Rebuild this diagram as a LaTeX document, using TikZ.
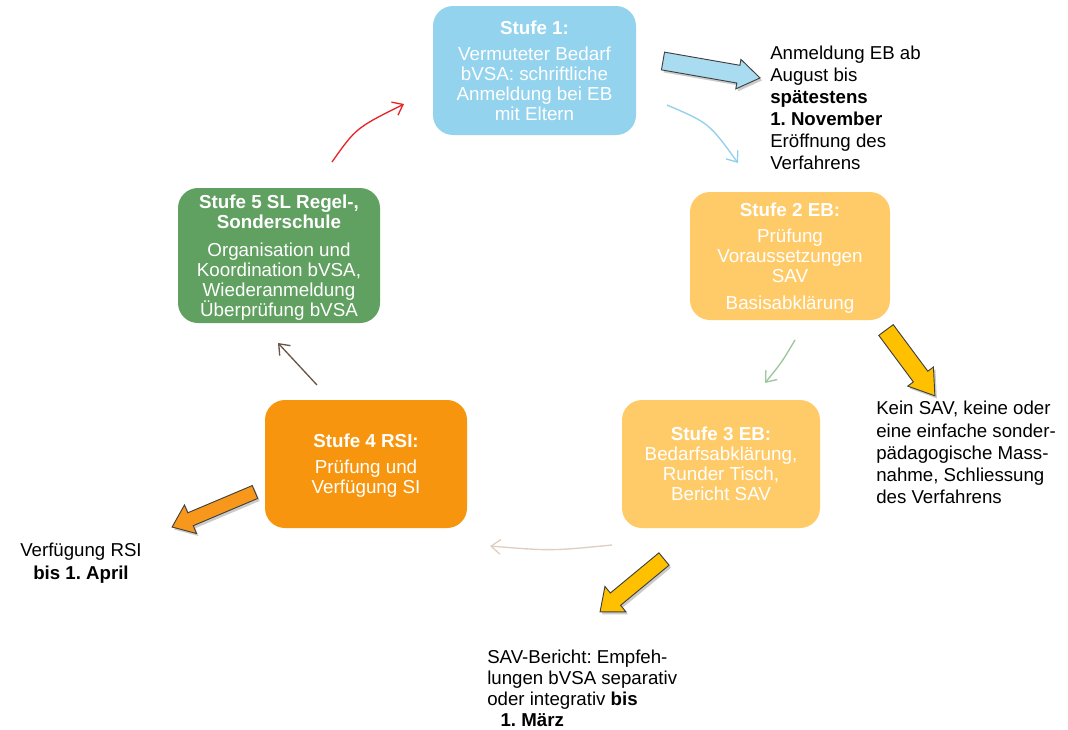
\documentclass[tikz,border=0pt]{standalone}
\usepackage{fontspec}
\setmainfont{Liberation Sans}
\usetikzlibrary{arrows.meta}
\frenchspacing
\definecolor{c1}{HTML}{93D3EE}
\definecolor{c2}{HTML}{FFCB69}
\definecolor{c4}{HTML}{F7960E}
\definecolor{c5}{HTML}{60A060}
\definecolor{gold}{HTML}{FFC000}
\definecolor{ablue}{HTML}{A9DCF0}
\definecolor{aorange}{HTML}{F7981D}
\definecolor{tblue}{HTML}{92D0EC}
\definecolor{tgreen}{HTML}{9CC79C}
\definecolor{tbeige}{HTML}{E0CFC0}
\definecolor{tbrown}{HTML}{6B564A}
\definecolor{tred}{HTML}{E8262A}
\tikzset{
 stufe/.style={rounded corners=15pt, text=white, align=center, font=\fontsize{14.1}{15}\selectfont, inner sep=0pt, text depth=0pt},
 notetext/.style={align=left, inner sep=0pt, anchor=north west, font=\fontsize{14}{16.5}\selectfont},
 cyc/.style={line width=1pt, -{Straight Barb[length=7pt,width=11pt]}},
 blockline/.style={draw=black!75, line width=0.7pt, line join=miter},
}
% #1 x, #2 y (start centre, px), #3 angle, #4 length, #5 shaft half width, #6 head half width, #7 head length, #8 colour
\newcommand\blockarrow[8]{%
  \begin{scope}[shift={(#1+2,#2+2.5)}, rotate=#3]
    \fill[black!45, opacity=0.45] (0,-#5) -- ({#4-#7},-#5) -- ({#4-#7},-#6) -- (#4,0) -- ({#4-#7},#6) -- ({#4-#7},#5) -- (0,#5) -- cycle;
  \end{scope}
  \begin{scope}[shift={(#1,#2)}, rotate=#3]
    \draw[blockline, fill=#8] (0,-#5) -- ({#4-#7},-#5) -- ({#4-#7},-#6) -- (#4,0) -- ({#4-#7},#6) -- ({#4-#7},#5) -- (0,#5) -- cycle;
  \end{scope}}
\begin{document}
\begin{tikzpicture}[x=0.75pt, y=-0.75pt]
\useasboundingbox[fill=white] (0,0) rectangle (1068,729);

% boxes
\node[stufe, fill=c1, minimum width=152.25pt, minimum height=96.75pt] (s1) at (534.5,70.5)
  {\textbf{Stufe 1:}\\[4.5pt]Vermuteter Bedarf\\bVSA: schriftliche\\Anmeldung bei EB\\mit Eltern};
\node[stufe, fill=c2, minimum width=150pt, minimum height=96pt] (s2) at (790,256)
  {\textbf{Stufe 2 EB:}\\[5pt]Prüfung\\Voraussetzungen\\SAV\\[5pt]Basisabklärung};
\node[stufe, fill=c2, minimum width=148.5pt, minimum height=96pt] (s3) at (721,464)
  {\textbf{Stufe 3 EB:}\\Bedarfsabklärung,\\Runder Tisch,\\Bericht SAV};
\node[stufe, fill=c4, minimum width=151.5pt, minimum height=96pt] (s4) at (366,464)
  {\textbf{Stufe 4 RSI:}\\[4.5pt]Prüfung und\\Verfügung SI};
\node[stufe, fill=c5, minimum width=151.5pt, minimum height=101.25pt] (s5) at (279,255.5)
  {\textbf{Stufe 5 SL Regel-,}\\\textbf{Sonderschule}\\[6pt]Organisation und\\Koordination bVSA,\\Wiederanmeldung\\Überprüfung bVSA};

% notes
\node[notetext] (n1) at (770,46) {Anmeldung EB ab\\August bis\\\textbf{spätestens}\\\textbf{1. November}\\Eröffnung des\\Verfahrens};
\node[notetext, font=\fontsize{14}{16.7}\selectfont] (n2) at (876,401) {Kein SAV, keine oder\\eine einfache sonder-\\pädagogische Mass-\\nahme, Schliessung\\des Verfahrens};
\node[notetext, align=center, font=\fontsize{14}{17}\selectfont] (n3) at (20,543) {Verfügung RSI\\\textbf{bis 1. April}};
\node[notetext, font=\fontsize{14}{15.75}\selectfont] (n4) at (487,650) {SAV-Bericht: Empfeh-\\lungen bVSA separativ\\oder integrativ \textbf{bis}\\\hspace*{10pt}\textbf{1. März}};

% block arrows
\blockarrow{663}{61}{-9.9}{98.5}{9}{15}{22}{ablue}
\blockarrow{886}{330}{-53.4}{82}{9}{16}{24}{gold}
\blockarrow{255}{492}{-157.1}{90}{7}{15.5}{20}{aorange}
\blockarrow{664}{559}{-140.4}{83}{8}{16.5}{20}{gold}

% cycle arrows
\coordinate (b1) at (667,105); \coordinate (b2) at (738,163);
\coordinate (g1) at (795,340); \coordinate (g2) at (765,383);
\coordinate (e1) at (612,545); \coordinate (e2) at (490,546);
\coordinate (w1) at (317,385); \coordinate (w2) at (278,343);
\coordinate (r1) at (332,162); \coordinate (r2) at (404,104);
\draw[cyc, tblue] (b1) .. controls (709,123) .. (b2);
\draw[cyc, tgreen] (g1) .. controls (782,362) .. (g2);
\draw[cyc, tbeige] (e1) .. controls (551,551) .. (e2);
\draw[cyc, tbrown] (w1) -- (w2);
\draw[cyc, tred] (r1) .. controls (356,128) .. (r2);
\end{tikzpicture}
\end{document}
